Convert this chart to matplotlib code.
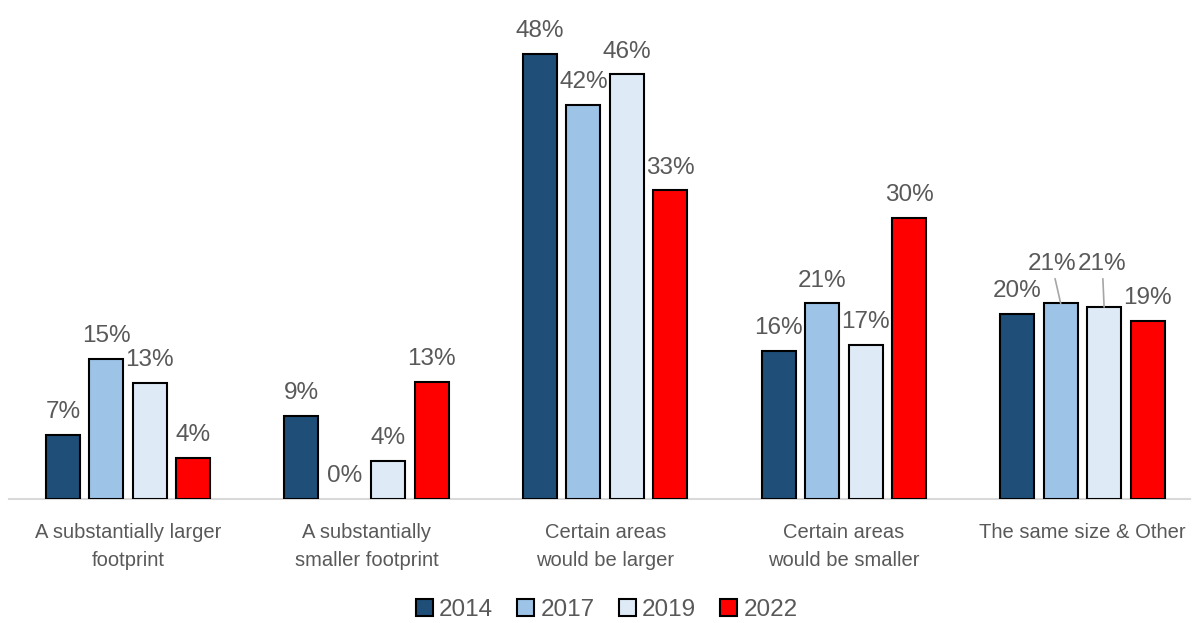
import matplotlib
matplotlib.use("Agg")
import matplotlib.pyplot as plt
import numpy as np

categories = ["A substantially larger\nfootprint", "A substantially\nsmaller footprint",
              "Certain areas\nwould be larger", "Certain areas\nwould be smaller",
              "The same size & Other"]
years = ["2014", "2017", "2019", "2022"]
v2014 = [6.9, 9.0, 48.0, 16.0, 20.0]
v2017 = [15.1, 0.0, 42.5, 21.1, 21.1]
v2019 = [12.5, 4.1, 45.8, 16.6, 20.7]
v2022 = [4.4, 12.6, 33.3, 30.3, 19.2]
labels2014 = ["7%", "9%", "48%", "16%", "20%"]
labels2017 = ["15%", "0%", "42%", "21%", "21%"]
labels2019 = ["13%", "4%", "46%", "17%", "21%"]
labels2022 = ["4%", "13%", "33%", "30%", "19%"]

series = [v2014, v2017, v2019, v2022]
series_labels = [labels2014, labels2017, labels2019, labels2022]
colors = ["#1F4E79", "#9DC3E6", "#DEEBF7", "#FF0000"]

plt.rcParams['font.family'] = ['Liberation Sans', 'DejaVu Sans']
text_color = "#595959"
lab_fs = 17.5
cat_fs = 14.5

fig = plt.figure(figsize=(11.92, 6.23), dpi=100)
ax = fig.add_axes([8.7/1192, 1 - 499/623, 1193/1192, 499/623])

x = np.arange(len(categories))
width = 0.1425
pitch = 0.182
offsets = (np.arange(4) - 1.5) * pitch

for i, (vals, labs, col, yr) in enumerate(zip(series, series_labels, colors, years)):
    lws = [1.5 if v > 0 else 0 for v in vals]
    bars = ax.bar(x + offsets[i], vals, width, color=col, edgecolor="black",
                  linewidth=lws, label=yr, zorder=3)
    for j, (b, lab) in enumerate(zip(bars, labs)):
        cx = b.get_x() + b.get_width() / 2
        h = b.get_height()
        if j == 4 and i in (1, 2):
            dx = -0.038 if i == 1 else -0.008
            ty = 25.4
            ax.annotate(lab, xy=(cx, h), xytext=(cx + dx, ty), ha="center", va="center",
                        fontsize=lab_fs, color=text_color,
                        arrowprops=dict(arrowstyle="-", color="#A6A6A6", lw=1.2,
                                        shrinkA=1, shrinkB=0))
        else:
            ax.annotate(lab, xy=(cx, h), xytext=(0, 8.5), textcoords="offset points",
                        ha="center", va="bottom", fontsize=lab_fs, color=text_color)

ax.set_xlim(-0.5, 4.5)
ax.set_ylim(0, 499 / 9.27)
ax.set_xticks(x)
ax.set_xticklabels(categories, fontsize=cat_fs, color=text_color, linespacing=1.6)
ax.tick_params(axis="x", length=0, pad=17)
ax.set_yticks([])
for s in ["top", "right", "left"]:
    ax.spines[s].set_visible(False)
ax.spines["bottom"].set_color("#D9D9D9")
ax.spines["bottom"].set_linewidth(1.5)
ax.spines["bottom"].set_bounds(-0.5, 4.45)
ax.patch.set_alpha(0)

leg = fig.legend(loc="center", bbox_to_anchor=(0.509, 1 - 610/623), ncol=4, frameon=False,
                 fontsize=lab_fs, handlelength=0.7, handleheight=0.7, handletextpad=0.25,
                 columnspacing=1.0)
for t in leg.get_texts():
    t.set_color(text_color)

fig.savefig("out.png", dpi=100)
